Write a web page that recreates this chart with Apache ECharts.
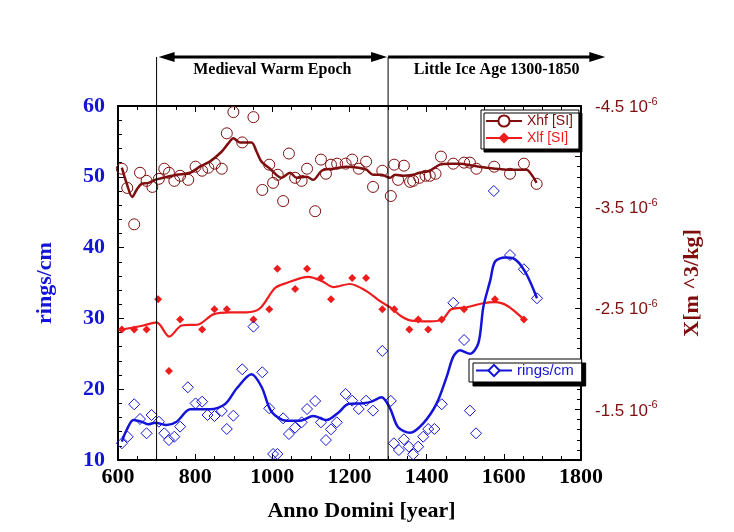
<!DOCTYPE html>
<html>
<head>
<meta charset="utf-8">
<script src="https://cdn.jsdelivr.net/npm/echarts@6/dist/echarts.min.js"></script>
<style>
  html, body { margin: 0; padding: 0; background: #fff; }
  #chart { width: 734px; height: 532px; }
</style>
</head>
<body>
<div id="chart"></div>
<script>
// periods marked above the plot (years)
const warmStart = 700;
const iceStart = 1300;
const iceEnd = 1850;

const xTicks = { min: 600, max: 1800, interval: 200 };
const ringTicks = { min: 10, max: 60, interval: 10 };
const chiTicks = { min: -4.5, max: -1.0, interval: 0.5 };

// Xhf [SI] measurements, [year, X in 10^-6 m^3/kg]
const xhfPoints = [
  [610, -3.88], [624, -3.69], [642, -3.33], [657, -3.84], [674, -3.76], [689, -3.70],
  [706, -3.78], [720, -3.88], [732, -3.84], [746, -3.76], [761, -3.81], [782, -3.77],
  [801, -3.90], [818, -3.86], [834, -3.89], [851, -3.93], [869, -3.88], [882, -4.23],
  [899, -4.44], [922, -4.14], [951, -4.39], [974, -3.67], [992, -3.92], [1002, -3.74],
  [1014, -3.82], [1028, -3.56], [1043, -4.03], [1059, -3.79], [1076, -3.76], [1090, -3.88],
  [1111, -3.46], [1126, -3.97], [1139, -3.83], [1152, -3.92], [1168, -3.93], [1190, -3.93],
  [1207, -3.97], [1224, -3.88], [1243, -3.95], [1261, -3.70], [1285, -3.86], [1307, -3.61],
  [1316, -3.92], [1326, -3.77], [1341, -3.91], [1357, -3.75], [1365, -3.76], [1381, -3.79],
  [1397, -3.81], [1408, -3.81], [1423, -3.83], [1437, -4.00], [1469, -3.93], [1497, -3.94],
  [1512, -3.94], [1529, -3.88], [1575, -3.90], [1616, -3.83], [1652, -3.93], [1685, -3.73]
];
// Xhf smoothed curve
const xhfCurve = [
  [610, -3.89], [622, -3.74], [637, -3.60], [648, -3.67], [661, -3.73], [679, -3.74],
  [696, -3.77], [717, -3.79], [752, -3.82], [787, -3.84], [812, -3.90], [838, -3.95],
  [869, -4.05], [886, -4.13], [899, -4.18], [916, -4.14], [946, -4.14], [959, -4.05],
  [972, -3.95], [994, -3.88], [1024, -3.79], [1046, -3.84], [1063, -3.79], [1089, -3.80],
  [1106, -3.77], [1128, -3.86], [1158, -3.88], [1193, -3.90], [1223, -3.89], [1244, -3.87],
  [1261, -3.82], [1283, -3.82], [1305, -3.79], [1318, -3.82], [1339, -3.81], [1365, -3.82],
  [1382, -3.84], [1408, -3.86], [1434, -3.92], [1460, -3.93], [1486, -3.93], [1521, -3.91],
  [1555, -3.89], [1581, -3.88], [1607, -3.87], [1642, -3.87], [1659, -3.87], [1672, -3.82],
  [1685, -3.74]
];

// Xlf [SI] measurements
const xlfPoints = [
  [610, -2.29], [642, -2.29], [674, -2.29], [704, -2.59], [732, -1.88], [761, -2.39],
  [818, -2.29], [850, -2.49], [882, -2.49], [951, -2.39], [992, -2.49], [1013, -2.89],
  [1059, -2.69], [1090, -2.89], [1126, -2.80], [1152, -2.59], [1207, -2.80], [1243, -2.80],
  [1285, -2.49], [1316, -2.49], [1355, -2.29], [1378, -2.39], [1404, -2.29], [1439, -2.39],
  [1497, -2.49], [1577, -2.59], [1652, -2.39]
];
// Xlf smoothed curve
const xlfCurve = [
  [610, -2.29], [666, -2.33], [700, -2.36], [733, -2.22], [765, -2.33], [808, -2.34],
  [847, -2.44], [890, -2.46], [933, -2.46], [968, -2.50], [1007, -2.70], [1037, -2.75],
  [1093, -2.81], [1128, -2.77], [1158, -2.71], [1201, -2.74], [1244, -2.67], [1279, -2.57],
  [1313, -2.49], [1331, -2.43], [1357, -2.38], [1408, -2.37], [1441, -2.39], [1464, -2.49],
  [1504, -2.51], [1547, -2.55], [1577, -2.56], [1611, -2.52], [1652, -2.39]
];

// rings/cm measurements
const ringPoints = [
  [610, 12.36], [625, 13.29], [642, 17.87], [657, 15.79], [674, 13.77], [687, 16.36],
  [706, 15.41], [720, 13.77], [732, 12.82], [746, 13.29], [761, 14.71], [781, 20.27],
  [801, 18.0], [818, 18.24], [832, 16.36], [850, 16.21], [869, 16.92], [882, 14.38],
  [899, 16.26], [922, 22.81], [951, 28.83], [974, 22.39], [992, 17.30], [1002, 10.85],
  [1013, 10.85], [1028, 15.89], [1043, 13.67], [1059, 14.57], [1076, 15.32], [1090, 17.20],
  [1111, 18.33], [1126, 15.32], [1139, 12.82], [1152, 14.33], [1167, 15.32], [1190, 19.32],
  [1207, 18.38], [1224, 17.20], [1243, 18.38], [1261, 16.97], [1285, 25.4], [1307, 18.35],
  [1315, 12.36], [1328, 11.41], [1341, 12.92], [1354, 11.88], [1365, 10.8], [1378, 11.88],
  [1391, 13.29], [1404, 14.38], [1420, 14.38], [1439, 17.87], [1469, 32.2], [1497, 26.95],
  [1512, 16.97], [1528, 13.77], [1574, 48.0], [1616, 38.95], [1652, 36.94], [1686, 32.84]
];
// rings/cm smoothed curve
const ringCurve = [
  [610, 12.6], [622, 14.2], [640, 15.65], [661, 15.41], [679, 15.04], [696, 15.27],
  [726, 14.94], [752, 15.41], [787, 17.16], [812, 17.16], [838, 17.16], [877, 17.87],
  [908, 20.13], [946, 22.1], [972, 20.35], [998, 16.82], [1037, 15.55], [1072, 15.55],
  [1106, 16.21], [1141, 15.65], [1171, 16.68], [1197, 17.91], [1236, 18.0], [1257, 18.24],
  [1283, 18.86], [1305, 17.3], [1326, 14.62], [1357, 13.86], [1391, 15.18], [1426, 18.0],
  [1452, 21.77], [1469, 24.6], [1486, 25.5], [1512, 25.0], [1534, 26.5], [1547, 31.65],
  [1565, 35.4], [1577, 38.0], [1603, 38.6], [1624, 38.5], [1655, 36.6], [1686, 32.84]
];

const serif = '"Liberation Serif", "DejaVu Serif", serif';
const sans = '"Liberation Sans", Arial, sans-serif';
const blue = '#1414d8';
const maroon = '#7f0f0f';
const red = '#ee1c1c';

const chart = echarts.init(document.getElementById('chart'), null, { renderer: 'canvas' });

const tickStyle = { inside: true, length: 6, lineStyle: { color: '#000', width: 1 } };
const minorStyle = { show: true, length: 4, lineStyle: { color: '#000', width: 1 } };
const frameLine = { show: true, onZero: false, lineStyle: { color: '#000', width: 2 } };

chart.setOption({
  animation: false,
  backgroundColor: '#fff',
  grid: { left: 118, right: 153, top: 106, bottom: 72, containLabel: false },
  xAxis: [
    {
      type: 'value', position: 'bottom',
      min: xTicks.min, max: xTicks.max, interval: xTicks.interval,
      name: 'Anno Domini [year]', nameLocation: 'middle', nameGap: 40,
      nameTextStyle: { fontFamily: serif, fontWeight: 'bold', fontSize: 22, color: '#000', padding: [0, 0, 0, 24] },
      axisLine: frameLine,
      axisTick: tickStyle,
      minorTick: Object.assign({ splitNumber: 4 }, minorStyle),
      splitLine: { show: false },
      axisLabel: {
        fontFamily: serif, fontWeight: 'bold', fontSize: 22, color: '#000', margin: 6,
        formatter: function (v) { return String(v); }
      }
    },
    {
      type: 'value', position: 'top',
      min: xTicks.min, max: xTicks.max, interval: xTicks.interval,
      axisLine: frameLine,
      axisTick: tickStyle,
      minorTick: Object.assign({ splitNumber: 4 }, minorStyle),
      splitLine: { show: false },
      axisLabel: { show: false }
    }
  ],
  yAxis: [
    {
      type: 'value', position: 'left',
      min: ringTicks.min, max: ringTicks.max, interval: ringTicks.interval,
      name: 'rings/cm', nameLocation: 'middle', nameGap: 62, nameRotate: 90,
      nameTextStyle: { fontFamily: serif, fontWeight: 'bold', fontSize: 22, color: blue },
      axisLine: frameLine,
      axisTick: tickStyle,
      minorTick: Object.assign({ splitNumber: 5 }, minorStyle),
      splitLine: { show: false },
      axisLabel: { fontFamily: serif, fontWeight: 'bold', fontSize: 22, color: blue, margin: 13 }
    },
    {
      type: 'value', position: 'right', inverse: true,
      min: chiTicks.min, max: chiTicks.max, interval: chiTicks.interval,
      name: 'X[m ^3/kg]', nameLocation: 'middle', nameGap: 100, nameRotate: 90,
      nameTextStyle: { fontFamily: serif, fontWeight: 'bold', fontSize: 22, color: maroon },
      axisLine: frameLine,
      axisTick: tickStyle,
      minorTick: Object.assign({ splitNumber: 5 }, minorStyle),
      splitLine: { show: false },
      axisLabel: {
        margin: 14,
        formatter: function (v) {
          if (Math.abs(v % 1) < 0.25) return '';
          return '{a|' + v.toFixed(1) + ' 10}{s|-6}';
        },
        rich: {
          a: { fontFamily: sans, fontSize: 17, color: maroon, lineHeight: 20, verticalAlign: 'bottom' },
          s: { fontFamily: sans, fontSize: 11, color: maroon, lineHeight: 20, verticalAlign: 'top' }
        }
      }
    }
  ],
  legend: [
    {
      orient: 'vertical', left: 481, top: 110,
      itemWidth: 36, itemHeight: 14, itemGap: 3,
      padding: [4, 6, 4, 4],
      backgroundColor: '#fff', borderColor: '#000', borderWidth: 1,
      shadowColor: '#000', shadowBlur: 0, shadowOffsetX: 3, shadowOffsetY: 3,
      textStyle: { fontFamily: sans, fontSize: 14 },
      data: [
        { name: 'Xhf [SI]', textStyle: { color: maroon } },
        { name: 'Xlf [SI]', textStyle: { color: red } }
      ]
    },
    {
      orient: 'vertical', left: 469, top: 359,
      itemWidth: 36, itemHeight: 14,
      padding: [4, 8, 4, 6],
      backgroundColor: '#fff', borderColor: '#000', borderWidth: 1,
      shadowColor: '#000', shadowBlur: 0, shadowOffsetX: 4, shadowOffsetY: 4,
      textStyle: { fontFamily: sans, fontSize: 15, color: blue },
      data: [{ name: 'rings/cm' }]
    }
  ],
  series: [
    {
      name: 'Xhf points', type: 'scatter', yAxisIndex: 1, z: 2,
      symbol: 'circle', symbolSize: 11,
      itemStyle: { color: 'rgba(0,0,0,0)', borderColor: maroon, borderWidth: 1, opacity: 1 },
      data: xhfPoints
    },
    {
      name: 'Xlf points', type: 'scatter', yAxisIndex: 1, z: 2,
      symbol: 'diamond', symbolSize: 8,
      itemStyle: { color: red, opacity: 1 },
      data: xlfPoints
    },
    {
      name: 'rings points', type: 'scatter', yAxisIndex: 0, z: 2,
      symbol: 'diamond', symbolSize: 11,
      itemStyle: { color: 'rgba(0,0,0,0)', borderColor: blue, borderWidth: 1, opacity: 1 },
      data: ringPoints
    },
    {
      name: 'Xhf [SI]', type: 'line', yAxisIndex: 1, z: 3,
      smooth: 0.3, showSymbol: false, symbol: 'emptyCircle',
      lineStyle: { color: maroon, width: 2.5 },
      itemStyle: { color: maroon },
      data: xhfCurve
    },
    {
      name: 'Xlf [SI]', type: 'line', yAxisIndex: 1, z: 3,
      smooth: 0.3, showSymbol: false, symbol: 'diamond',
      lineStyle: { color: red, width: 2.2 },
      itemStyle: { color: red },
      data: xlfCurve
    },
    {
      name: 'rings/cm', type: 'line', yAxisIndex: 0, z: 3,
      smooth: 0.3, showSymbol: false, symbol: 'emptyDiamond',
      lineStyle: { color: blue, width: 2.5 },
      itemStyle: { color: blue },
      data: ringCurve
    }
  ]
});

// period markers above the plot, placed through the x axis scale
const xA = chart.convertToPixel({ xAxisIndex: 0 }, warmStart);
const xB = chart.convertToPixel({ xAxisIndex: 0 }, iceStart);
const xC = chart.convertToPixel({ xAxisIndex: 0 }, iceEnd) + 5;
const yBottom = chart.convertToPixel({ yAxisIndex: 0 }, ringTicks.min);
const yArrow = 57;

function head(tip, dir) {
  return {
    type: 'polygon', z: 10,
    shape: { points: [[tip, yArrow], [tip - dir * 16, yArrow - 5], [tip - dir * 16, yArrow + 5]] },
    style: { fill: '#000' }
  };
}

chart.setOption({
  graphic: [
    { type: 'line', z: 10, shape: { x1: xA, y1: yArrow, x2: xA, y2: yBottom }, style: { stroke: '#000', lineWidth: 1 } },
    { type: 'line', z: 10, shape: { x1: xB, y1: yArrow, x2: xB, y2: yBottom }, style: { stroke: '#000', lineWidth: 1 } },
    { type: 'line', z: 10, shape: { x1: xA + 8, y1: yArrow, x2: xB - 8, y2: yArrow }, style: { stroke: '#000', lineWidth: 3 } },
    { type: 'line', z: 10, shape: { x1: xB, y1: yArrow, x2: xC - 8, y2: yArrow }, style: { stroke: '#000', lineWidth: 3 } },
    head(xA + 2, -1),
    head(xB - 1, 1),
    head(xC, 1),
    {
      type: 'text', z: 10, x: (xA + xB) / 2, y: 70,
      style: { text: 'Medieval Warm Epoch', font: 'bold 16px ' + serif, fill: '#000', align: 'center', verticalAlign: 'middle' }
    },
    {
      type: 'text', z: 10, x: (xB + xC) / 2, y: 70,
      style: { text: 'Little Ice Age 1300-1850', font: 'bold 16px ' + serif, fill: '#000', align: 'center', verticalAlign: 'middle' }
    }
  ]
});
</script>
</body>
</html>
